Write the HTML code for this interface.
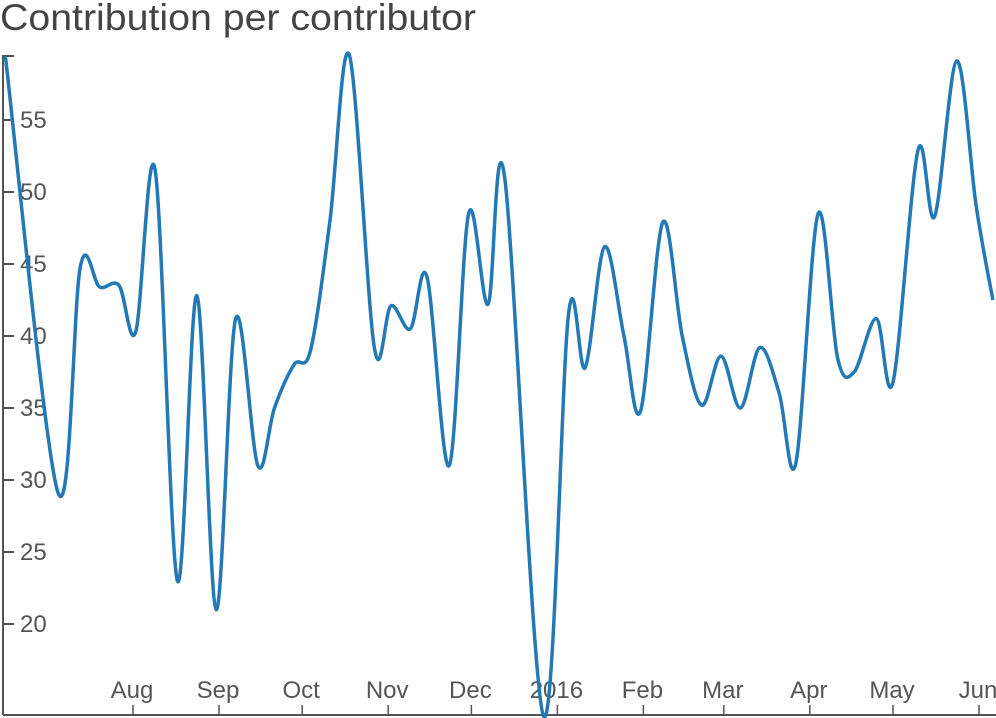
<!DOCTYPE html>
<html><head><meta charset="utf-8"><style>
html,body{margin:0;padding:0;background:#fff;}
svg{display:block;font-family:"Liberation Sans",sans-serif;}
</style></head><body>
<svg id="chart" width="996" height="718">
<text x="0" y="30" font-size="37" fill="#444" textLength="476" lengthAdjust="spacingAndGlyphs">Contribution per contributor</text>
<g id="axes"></g>
<g id="series"></g>
</svg>
<script>
const dates = ["2015-06-16","2015-07-05","2015-07-13","2015-07-20","2015-07-27","2015-08-02","2015-08-09","2015-08-17","2015-08-24","2015-08-31","2015-09-07","2015-09-15","2015-09-21","2015-09-28","2015-10-04","2015-10-11","2015-10-18","2015-10-27","2015-11-02","2015-11-09","2015-11-15","2015-11-23","2015-11-30","2015-12-07","2015-12-13","2015-12-27","2016-01-05","2016-01-11","2016-01-18","2016-01-25","2016-01-31","2016-02-08","2016-02-15","2016-02-22","2016-02-29","2016-03-07","2016-03-14","2016-03-21","2016-03-27","2016-04-04","2016-04-11","2016-04-17","2016-04-25","2016-05-01","2016-05-10","2016-05-16","2016-05-24","2016-05-31","2016-06-06"];
const values = [59.4,29.1,44.8,43.4,43.5,40.3,51.5,23,42.8,21,41.2,31,35,38,39,48,59.5,39.2,42.1,40.5,44.1,31,48.5,42.2,51,13.6,41.5,37.8,46.2,40,34.8,47.9,40,35.2,38.6,35,39.2,36,31.2,48.5,38.5,37.5,41.2,36.8,52.9,48.3,59.1,49,42.5];
const yTicks = [20,25,30,35,40,45,50,55];
const xTickDates = ["2015-08-01","2015-09-01","2015-10-01","2015-11-01","2015-12-01","2016-01-01","2016-02-01","2016-03-01","2016-04-01","2016-05-01","2016-06-01"];
const xTickLabels = ["Aug","Sep","Oct","Nov","Dec","2016","Feb","Mar","Apr","May","Jun"];

const NS="http://www.w3.org/2000/svg";
const t0=Date.parse("2015-08-01"), t1=Date.parse("2016-06-01");
function x(d){return 133+(Date.parse(d)-t0)/(t1-t0)*(979-133);}
function y(v){return 120+(55-v)*14.4;}
function mk(tag,attrs,parent){const e=document.createElementNS(NS,tag);for(const k in attrs)e.setAttribute(k,attrs[k]);parent.appendChild(e);return e;}
const axes=document.getElementById('axes'), series=document.getElementById('series');
const col="#555";
const yAxis=mk('path',{d:"M14,56H3V715",fill:"none",stroke:col,"stroke-width":2},axes);


const xAxis=mk('path',{d:"M3,715H996",fill:"none",stroke:col,"stroke-width":2},axes);


yTicks.forEach(v=>{
  const tk=mk('line',{x1:3,x2:14,y1:y(v),y2:y(v),stroke:col,"stroke-width":2},axes);
  
  
  const t=mk('text',{x:20,y:y(v)+8,"font-size":24,fill:col},axes);
  t.textContent=v;
  
  
});
xTickDates.forEach((d,i)=>{
  const tk=mk('line',{x1:x(d),x2:x(d),y1:705,y2:715,stroke:col,"stroke-width":1.5},axes);
  
  
  const t=mk('text',{x:x(d)-1,y:698,"font-size":24,fill:col,"text-anchor":"middle"},axes);
  t.textContent=xTickLabels[i];
  
  
});
const pts=dates.map((d,i)=>[x(d),y(values[i])]);
let p="M"+pts[0][0]+","+pts[0][1];
for(let i=0;i<pts.length-1;i++){
  const p0=pts[Math.max(0,i-1)],p1=pts[i],p2=pts[i+1],p3=pts[Math.min(pts.length-1,i+2)];
  const c1=[p1[0]+(p2[0]-p0[0])/6,p1[1]+(p2[1]-p0[1])/6];
  const c2=[p2[0]-(p3[0]-p1[0])/6,p2[1]-(p3[1]-p1[1])/6];
  p+=`C${c1[0]},${c1[1]} ${c2[0]},${c2[1]} ${p2[0]},${p2[1]}`;
}
const line=mk('path',{d:p,fill:"none",stroke:"#2279b5","stroke-width":3.5},series);


</script>
</body></html>
